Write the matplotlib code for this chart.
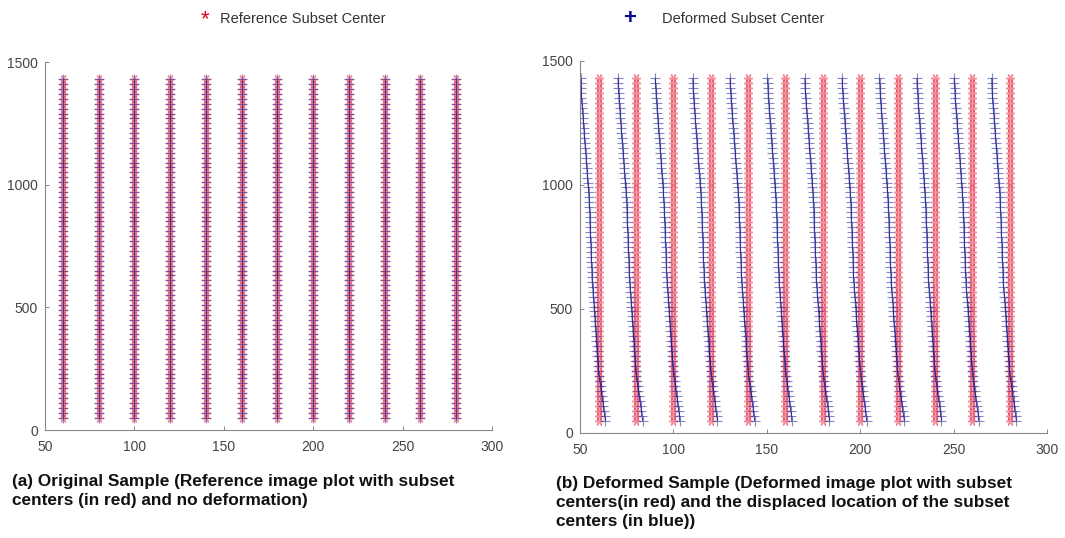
"""Subset centres of a DIC sample: reference grid vs deformed positions."""
import matplotlib
matplotlib.use("Agg")
import matplotlib.pyplot as plt
import numpy as np

plt.rcParams["font.family"] = ["Liberation Sans", "DejaVu Sans"]

# reference subset grid (image px)
col_x = [60, 80, 100, 120, 140, 160, 180, 200, 220, 240, 260, 280]
row_y = list(range(50, 1431, 20))

# horizontal displacement of the deformed centres, one value per row
dx_row = [3.5, 3.2, 2.8, 2.5, 2.1, 1.7, 1.3, 1.0, 0.6, 0.2,
          -0.1, -0.3, -0.5, -0.7, -0.9, -1.1, -1.2, -1.4, -1.6, -1.8,
          -2.0, -2.2, -2.3, -2.5, -2.7, -2.9, -3.1, -3.3, -3.5, -3.6,
          -3.7, -3.8, -3.9, -4.0, -4.1, -4.2, -4.3, -4.4, -4.5, -4.6,
          -4.7, -4.8, -4.9, -5.0, -5.1, -5.3, -5.4, -5.6, -5.8, -6.0,
          -6.2, -6.4, -6.6, -6.8, -7.0, -7.2, -7.4, -7.6, -7.8, -8.0,
          -8.2, -8.4, -8.6, -8.8, -9.0, -9.2, -9.3, -9.5, -9.6, -9.7]

x_ticks = [50, 100, 150, 200, 250, 300]
y_ticks = [0, 500, 1000, 1500]

caption_a = "(a) Original Sample (Reference image plot with subset\ncenters (in red) and no deformation)"
caption_b = ("(b) Deformed Sample (Deformed image plot with subset\n"
             "centers(in red) and the displaced location of the subset\n"
             "centers (in blue))")

RED = "#e8304a"
BLUE = "#10108a"
AST = (6, 2, 90)

W, H = 1065, 538
fig = plt.figure(figsize=(W / 100, H / 100), dpi=100)


def px_axes(x0, y0, x1, y1):
    return fig.add_axes([x0 / W, 1 - y1 / H, (x1 - x0) / W, (y1 - y0) / H])


def style(ax):
    ax.set_xlim(50, 300)
    ax.set_ylim(0, 1500)
    ax.set_xticks(x_ticks)
    ax.set_yticks(y_ticks)
    for s in ("top", "right"):
        ax.spines[s].set_visible(False)
    for s in ("left", "bottom"):
        ax.spines[s].set_color("#888888")
        ax.spines[s].set_linewidth(0.8)
    ax.tick_params(direction="in", length=3, width=0.7, color="#888888",
                   labelsize=10, labelcolor="#444444")
    ax.tick_params(axis="x", pad=7)
    ax.tick_params(axis="y", pad=5)


X, Y = np.meshgrid(col_x, row_y)
DX = np.array(dx_row)[:, None] * np.ones((1, len(col_x)))

# (a) undeformed
ax = px_axes(45, 62, 492, 430)
ax.plot(X.ravel(), Y.ravel(), ls="none", marker=AST, ms=6.5, mew=1.0,
        color=RED, alpha=0.5)
ax.plot(X.ravel(), Y.ravel(), ls="none", marker="+", ms=6.5, mew=0.8,
        color=BLUE, alpha=0.5)
style(ax)

# (b) deformed
ax = px_axes(580, 61, 1047, 433)
ax.plot(X.ravel(), Y.ravel(), ls="none", marker=AST, ms=6.5, mew=1.0,
        color=RED, alpha=0.55)
ax.plot((X + DX).ravel(), Y.ravel(), ls="none", marker="+", ms=7.5, mew=0.8,
        color=BLUE, alpha=0.5)
for j in range(len(col_x)):
    ax.plot(X[:, j] + DX[:, j], Y[:, j], color=BLUE, lw=0.7, alpha=0.6)
style(ax)

# legend line above the panels
fig.text(205 / W, 1 - 20 / H, "*", color="#e00020", fontsize=16,
         ha="center", va="center")
fig.text(220 / W, 1 - 19 / H, "Reference Subset Center", color="#333333",
         fontsize=10.5, va="center")
fig.text(630 / W, 1 - 19 / H, "+", color="#0a0a90", fontsize=16,
         fontweight="bold", ha="center", va="center")
fig.text(662 / W, 1 - 19 / H, "Deformed Subset Center", color="#333333",
         fontsize=10.5, va="center")

fig.text(12 / W, 1 - 474 / H, caption_a, fontsize=12.4, fontweight="bold",
         color="#111111", va="top", linespacing=1.32)
fig.text(556 / W, 1 - 476 / H, caption_b, fontsize=12.4, fontweight="bold",
         color="#111111", va="top", linespacing=1.32)

fig.savefig("out.png", dpi=100)
